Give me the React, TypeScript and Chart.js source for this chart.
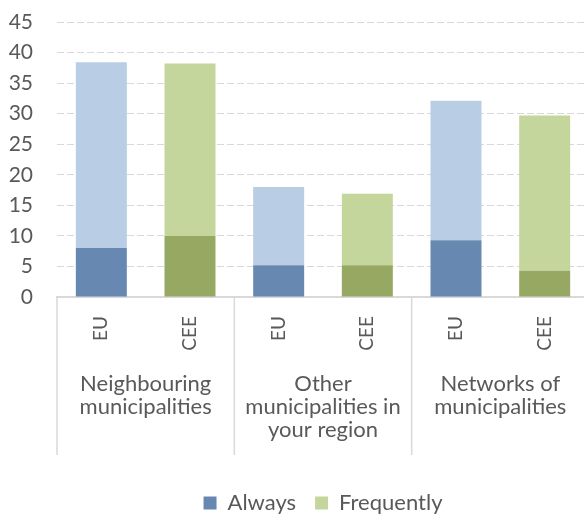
import React, { useEffect, useRef } from "react";
import { Chart, registerables } from "chart.js";

Chart.register(...registerables);

// ---- data ----
const groupLabels: string[][] = [
  ["Neighbouring", "municipalities"],
  ["Other", "municipalities in", "your region"],
  ["Networks of", "municipalities"],
];
const regionLabels = ["EU", "CEE", "EU", "CEE", "EU", "CEE"];
const alwaysValues = [8.0, 10.0, 5.2, 5.2, 9.3, 4.3];
const frequentlyValues = [30.4, 28.2, 12.8, 11.7, 22.8, 25.4];
const seriesNames = ["Always", "Frequently"];
const yMax = 45;
const yStep = 5;

// ---- styles ----
const EU_DARK = "#6788B1";
const EU_LIGHT = "#B9CDE5";
const CEE_DARK = "#97A862";
const CEE_LIGHT = "#C4D69B";
const TEXT = "#595959";
const GRID = "#D9D9D9";
const FONT = "Lato, 'Open Sans', sans-serif";

const alwaysColors = regionLabels.map((r) => (r === "EU" ? EU_DARK : CEE_DARK));
const frequentlyColors = regionLabels.map((r) => (r === "EU" ? EU_LIGHT : CEE_LIGHT));
const legendColors = [EU_DARK, CEE_LIGHT];

const groupPlugin = {
  id: "groupLabels",
  afterDraw(chart: any) {
    const x = chart.scales.x;
    const ctx = chart.ctx;
    const per = regionLabels.length / groupLabels.length;
    const step = x.getPixelForValue(1) - x.getPixelForValue(0);
    const top = chart.chartArea.bottom;
    const lineBottom = top + 158;
    ctx.save();
    ctx.strokeStyle = GRID;
    ctx.lineWidth = 1.5;
    for (let g = 0; g <= groupLabels.length; g++) {
      const px = x.getPixelForValue(g * per) - step / 2;
      ctx.beginPath();
      ctx.moveTo(px, top);
      ctx.lineTo(px, lineBottom);
      ctx.stroke();
    }
    ctx.fillStyle = TEXT;
    ctx.font = `22px ${FONT}`;
    ctx.textAlign = "center";
    ctx.textBaseline = "alphabetic";
    groupLabels.forEach((lines, g) => {
      const cx = (x.getPixelForValue(g * per) + x.getPixelForValue(g * per + per - 1)) / 2;
      lines.forEach((t, i) => ctx.fillText(t, cx, top + 94 + 23 * i));
    });
    ctx.restore();
  },
};

export default function App() {
  const ref = useRef<HTMLCanvasElement | null>(null);

  useEffect(() => {
    if (!ref.current) return;
    const chart = new Chart(ref.current, {
      type: "bar",
      data: {
        labels: regionLabels,
        datasets: [
          {
            label: seriesNames[0],
            data: alwaysValues,
            backgroundColor: alwaysColors,
            barPercentage: 0.575,
            categoryPercentage: 1,
          },
          {
            label: seriesNames[1],
            data: frequentlyValues,
            backgroundColor: frequentlyColors,
            barPercentage: 0.575,
            categoryPercentage: 1,
          },
        ],
      },
      options: {
        responsive: false,
        animation: false,
        layout: { padding: { top: 22, right: 1, left: 0, bottom: 0 } },
        plugins: {
          tooltip: { enabled: false },
          legend: {
            position: "bottom",
            fullSize: false,
            labels: {
              boxWidth: 13,
              boxHeight: 13,
              padding: 19,
              color: TEXT,
              font: { size: 22, family: FONT },
              generateLabels: () =>
                seriesNames.map((n, i) => ({
                  text: n,
                  fillStyle: legendColors[i],
                  strokeStyle: legendColors[i],
                  lineWidth: 0,
                  hidden: false,
                  datasetIndex: i,
                  fontColor: TEXT,
                })),
            },
          },
        },
        scales: {
          x: {
            stacked: true,
            grid: { display: false },
            border: { display: true, color: GRID, width: 2 },
            ticks: {
              autoSkip: false,
              maxRotation: 90,
              minRotation: 90,
              padding: 11,
              color: TEXT,
              font: { size: 19, family: FONT },
            },
            afterFit: (s: any) => {
              s.height = 176;
            },
          },
          y: {
            stacked: true,
            min: 0,
            max: yMax,
            border: { display: false, dash: [7, 3] },
            grid: {
              drawTicks: false,
              color: (c: any) => (c.tick && c.tick.value === 0 ? "rgba(0,0,0,0)" : GRID),
              lineWidth: 1,
            },
            ticks: {
              stepSize: yStep,
              padding: 24,
              color: TEXT,
              font: { size: 21, family: FONT },
            },
            afterFit: (s: any) => {
              s.width = 57;
              s.paddingTop = 0;
              s.paddingBottom = 0;
            },
          },
        },
      },
      plugins: [groupPlugin],
    });
    return () => chart.destroy();
  }, []);

  return (
    <div
      style={{
        position: "absolute",
        left: 0,
        top: 0,
        width: 584,
        height: 514,
        overflow: "hidden",
        background: "#fff",
      }}
    >
      <canvas ref={ref} width={590} height={524} style={{ width: 590, height: 524, display: "block" }} />
    </div>
  );
}
